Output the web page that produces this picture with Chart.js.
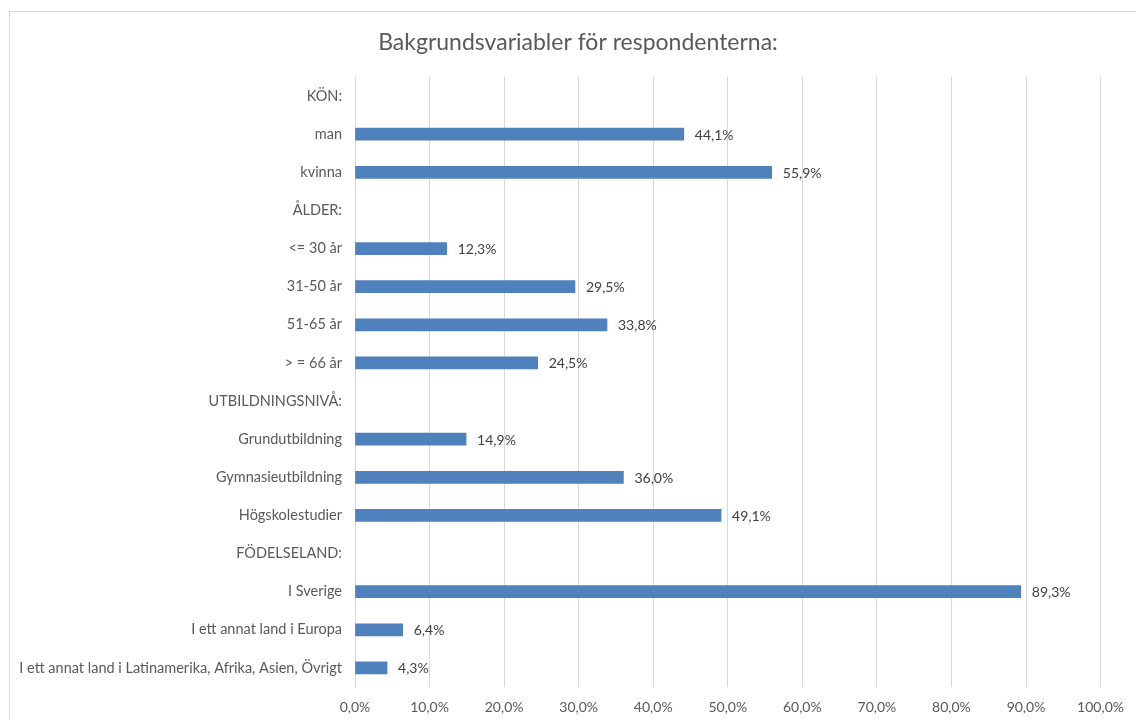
<!DOCTYPE html>
<html>
<head>
<meta charset="utf-8">
<script src="https://cdn.jsdelivr.net/npm/chart.js@4/dist/chart.umd.min.js"></script>
<style>
  html, body { margin: 0; padding: 0; background: #fff; overflow: hidden; }
  #frame { position: absolute; left: 9px; top: 11px; width: 1200px; height: 800px; border: 1px solid #d9d9d9; }
  #chart { position: absolute; left: 0; top: 0; }
</style>
</head>
<body>
<div id="frame"></div>
<canvas id="chart" width="1136" height="720"></canvas>
<script>
// kategorier (rubrikrader har inget värde)
var categories = [
    "KÖN:", "man", "kvinna",
    "ÅLDER:", "<= 30 år", "31-50 år", "51-65 år", "> = 66 år",
    "UTBILDNINGSNIVÅ:", "Grundutbildning", "Gymnasieutbildning", "Högskolestudier",
    "FÖDELSELAND:", "I Sverige", "I ett annat land i Europa", "I ett annat land i Latinamerika, Afrika, Asien, Övrigt"
];
var percentValues = [
    null, 44.1, 55.9,
    null, 12.3, 29.5, 33.8, 24.5,
    null, 14.9, 36.0, 49.1,
    null, 89.3, 6.4, 4.3
];
var xTicks = [0, 10, 20, 30, 40, 50, 60, 70, 80, 90, 100];
var titleText = "Bakgrundsvariabler för respondenterna:";

function fmt(v) {
    return v.toFixed(1).replace('.', ',') + '%';
}

var fontFamily = "Lato, 'Open Sans', sans-serif";

// titel + värden efter varje stapel
var valueLabels = {
    id: 'valueLabels',
    afterDatasetsDraw: function(chart) {
        var ctx = chart.ctx;
        var meta = chart.getDatasetMeta(0);
        ctx.save();
        ctx.font = "23px " + fontFamily;
        ctx.fillStyle = "#595959";
        ctx.textAlign = "center";
        ctx.textBaseline = "middle";
        ctx.fillText(titleText, 578, 43);

        ctx.font = "14px " + fontFamily;
        ctx.fillStyle = "#404040";
        ctx.textAlign = "left";
        meta.data.forEach(function(bar, i) {
            var v = percentValues[i];
            if (v === null) return;
            ctx.fillText(fmt(v), bar.x + 11, bar.y + 1);
        });
        ctx.restore();
    }
};

var ctx = document.getElementById("chart");
var chart = new Chart(ctx, {
    type: 'bar',
    data: {
        labels: categories,
        datasets: [{
            data: percentValues,
            backgroundColor: "#4f81bd",
            borderWidth: 0,
            barThickness: 12
        }]
    },
    options: {
        indexAxis: 'y',
        responsive: false,
        animation: false,
        layout: { padding: { left: 0, right: 34, top: 77, bottom: 0 } },
        plugins: {
            legend: { display: false },
            tooltip: { enabled: false },
            title: { display: false }
        },
        scales: {
            x: {
                min: 0,
                max: 100,
                afterBuildTicks: function(scale) {
                    scale.ticks = xTicks.map(function(v) { return { value: v }; });
                },
                afterFit: function(scale) { scale.height = 33; },
                grid: { color: "#d9d9d9", drawTicks: false },
                border: { display: false },
                ticks: {
                    padding: 12,
                    color: "#595959",
                    font: { family: fontFamily, size: 14 },
                    maxRotation: 0,
                    callback: function(v) { return fmt(v); }
                }
            },
            y: {
                afterFit: function(scale) { scale.width = 355; },
                grid: { display: false, drawTicks: false },
                border: { display: true, color: "#d9d9d9", width: 1 },
                ticks: {
                    padding: 13,
                    color: "#595959",
                    font: { family: fontFamily, size: 14.5 },
                    autoSkip: false
                }
            }
        }
    },
    plugins: [valueLabels]
});
</script>
</body>
</html>
